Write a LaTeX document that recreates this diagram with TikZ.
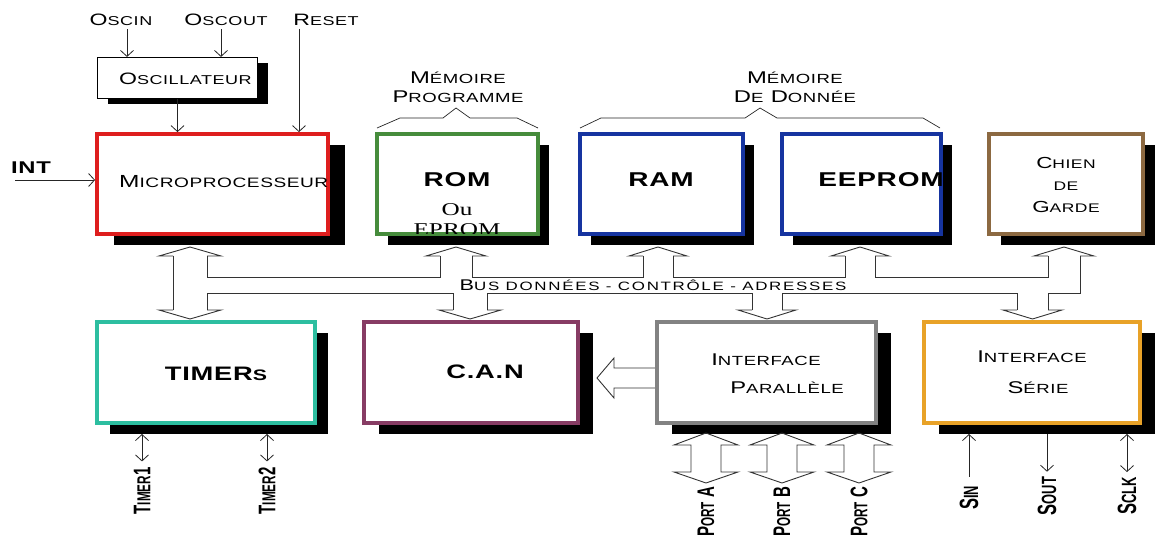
\documentclass[tikz,border=0pt]{standalone}
\usepackage{fontspec}
\usepackage{graphicx}
\setmainfont{Liberation Sans}[FakeStretch=1.4,LetterSpace=4]
\newfontfamily\droitsf{Liberation Sans}
\newfontfamily\romainsf{Liberation Serif}[FakeStretch=1.4]
\newfontfamily\bussf{Liberation Sans}[FakeStretch=1.4,LetterSpace=14]
\usetikzlibrary{arrows.meta,shadows}
\definecolor{rougemp}{RGB}{222,30,30}
\definecolor{vertrom}{RGB}{70,140,60}
\definecolor{bleumem}{RGB}{22,52,160}
\definecolor{brunwd}{RGB}{140,105,65}
\definecolor{turqtim}{RGB}{45,190,160}
\definecolor{violcan}{RGB}{135,60,100}
\definecolor{grispar}{RGB}{130,130,130}
\definecolor{orser}{RGB}{232,162,40}
\newcommand\pc[1]{\scalebox{0.78}{#1}}
\begin{document}
\begin{tikzpicture}[x=1pt,y=-1pt,
  >={Straight Barb[length=6pt,width=13pt]},
  fil/.style={line width=0.8pt,color=black!85},
  bus/.style={line width=0.9pt,color=black!80},
  bloc/.style={draw=#1,line width=3.8pt,fill=white,inner sep=0pt,minimum height=100pt},
  ombre/.style={drop shadow={shadow xshift=#1,shadow yshift=-11pt,fill=black,opacity=1}},
  lab/.style={inner sep=0pt,font=\fontsize{16.5}{19}\selectfont},
  gras/.style={inner sep=0pt,font=\bfseries\fontsize{20}{22}\selectfont},
  rot/.style={inner sep=1pt,rotate=90,yscale=1.6,font=\droitsf\bfseries\fontsize{15}{17}\selectfont}]
  \useasboundingbox (0,0) rectangle (1156,537);
  \node [draw,fill=white,line width=1.1pt,minimum width=160pt,minimum height=41pt,inner sep=0pt,
    drop shadow={shadow xshift=10.5pt,shadow yshift=-5.5pt,fill=black,opacity=1}] (osc) at (177.5,78) {};
  \node [bloc=rougemp,ombre=17pt,minimum width=231pt] (micro) at (212.5,184) {};
  \node [bloc=vertrom,ombre=11pt,minimum width=161pt] (rom) at (457.5,184) {};
  \node [bloc=bleumem,ombre=11pt,minimum width=163pt] (ram) at (661.5,184) {};
  \node [bloc=bleumem,ombre=11pt,minimum width=159pt] (eeprom) at (861.5,184) {};
  \node [bloc=brunwd,ombre=12pt,minimum width=154pt] (chien) at (1066,184) {};
  \node [bloc=turqtim,ombre=13pt,minimum width=218pt,minimum height=101pt] (timers) at (206,372.5) {};
  \node [bloc=violcan,ombre=15pt,minimum width=214pt,minimum height=101pt] (can) at (471,372.5) {};
  \node [bloc=grispar,line width=4.5pt,ombre=15pt,minimum width=219pt,minimum height=101pt] (par) at (766.5,372.5) {};
  \node [bloc=orser,ombre=15pt,minimum width=216pt,minimum height=101pt] (serie) at (1032,372.5) {};

  \node [lab] (oscin) at (121,20) {O\pc{SCIN}};
  \node [lab] (oscout) at (226,20) {O\pc{SCOUT}};
  \node [lab] (reset) at (326,20) {R\pc{ESET}};
  \node [lab,font=\bfseries\fontsize{17}{19}\selectfont] (int) at (31,168) {INT};
  \node [lab,anchor=west] (osctxt) at (119,79) {O\pc{SCILLATEUR}};
  \node [lab,anchor=west,font=\fontsize{17.5}{20}\selectfont] (mptxt) at (119,182) {M\pc{ICROPROCESSEUR}};
  \node [gras] (romtxt) at (457,180) {ROM};
  \node [inner sep=0pt,font=\romainsf\fontsize{18}{20}\selectfont] (outxt) at (457,210) {Ou};
  \begin{scope}
    \clip (377,134) rectangle (538,234);
    \node [inner sep=0pt,font=\romainsf\fontsize{18}{20}\selectfont] (epromtxt) at (457,229.5) {EPROM};
  \end{scope}
  \node [gras] (ramtxt) at (661,180) {RAM};
  \node [gras] (eeptxt) at (881,180) {EEPROM};
  \node [lab,align=center,font=\fontsize{16}{22}\selectfont] (cdgtxt) at (1066,185) {C\pc{HIEN}\\\pc{DE}\\G\pc{ARDE}};
  \node [lab,align=center,font=\fontsize{17}{19}\selectfont] (mprog) at (458,87) {M\pc{ÉMOIRE}\\P\pc{ROGRAMME}};
  \node [lab,align=center,font=\fontsize{17}{19}\selectfont] (mdon) at (795,87) {M\pc{ÉMOIRE}\\D\pc{E} D\pc{ONNÉE}};
  \node [gras,font=\bfseries\fontsize{19.5}{22}\selectfont] (timtxt) at (216,374) {TIMER\pc{S}};
  \node [gras,font=\bfseries\fontsize{19.5}{22}\selectfont] (cantxt) at (485,372) {C.A.N};
  \node [lab,font=\fontsize{17}{19}\selectfont] (ip1) at (766,360) {I\pc{NTERFACE}};
  \node [lab,font=\fontsize{17}{19}\selectfont] (ip2) at (787,388) {P\pc{ARALLÈLE}};
  \node [lab,font=\fontsize{17}{19}\selectfont] (is1) at (1032,357) {I\pc{NTERFACE}};
  \node [lab,font=\fontsize{17}{19}\selectfont] (is2) at (1038,388) {S\pc{ÉRIE}};
  \node [inner sep=0pt,font=\bussf\fontsize{15.5}{17}\selectfont] (bustxt) at (653,285) {B\pc{US DONNÉES - CONTRÔLE - ADRESSES}};

  \draw [fil,line width=0.7pt] (377,128) -- (400,118) -- (443,118) -- (456,108) -- (470,118) -- (517,118) -- (538,128);
  \draw [fil,line width=0.7pt] (580,128) -- (601,118) -- (745,118) -- (760,108) -- (777,118) -- (923,118) -- (940,128);

  \coordinate (rst) at (299,29);
  \coordinate (intin) at (15,180);
  \coordinate (sbas) at (0,434);
  \draw [fil,->] ([xshift=6pt]oscin.south) ++(0,3) -- ([xshift=6pt]oscin.south |- osc.north);
  \draw [fil,->] ([xshift=-5pt]oscout.south) ++(0,3) -- ([xshift=-5pt]oscout.south |- osc.north);
  \draw [fil,->] (rst) -- (rst |- micro.north);
  \draw [fil,->] (osc.south) -- (osc.south |- micro.north);
  \draw [fil,->] (intin) -- (intin -| micro.west);

  \foreach \a/\b in {173/207, 440/472, 643/673, 845/875, 1048/1080}{
    \draw [bus] (\a,256) -- ({\a-14},256) -- ({(\a+\b)/2},247) -- ({\b+14},256) -- (\b,256);
  }
  \foreach \a/\b in {173/207, 453/487, 752/782, 1017/1048}{
    \draw [bus] (\a,310) -- ({\a-14},310) -- ({(\a+\b)/2},319) -- ({\b+14},310) -- (\b,310);
  }
  \foreach \a/\b in {207/440, 472/643, 673/845, 875/1048}{
    \draw [bus] (\a,256) -- (\a,277) -- (\b,277) -- (\b,256);
  }
  \foreach \a/\b in {207/453, 487/752, 782/1017}{
    \draw [bus] (\a,310) -- (\a,293) -- (\b,293) -- (\b,310);
  }
  \draw [bus] (173,256) -- (173,310);
  \draw [bus] (1080,256) -- (1080,293) -- (1048,293) -- (1048,310);
  \draw [bus] (par.west |- 0,368) -- (614,368) -- (614,358) -- (597,378) -- (614,398) -- (614,388) -- (par.west |- 0,388);

  \foreach \c/\lettre in {706/A, 782/B, 859/C}{
    \draw [bus] (\c,433) -- ({\c+32},445) -- ({\c+15},445) -- ({\c+15},472) -- ({\c+32},472) -- (\c,483)
      -- ({\c-32},472) -- ({\c-15},472) -- ({\c-15},445) -- ({\c-32},445) -- cycle;
    \node [rot] (port\lettre) at (\c,512) {P\pc{ORT} \lettre};
  }
  \node [rot] (tim1) at (142,491) {T\pc{IMER}1};
  \node [rot] (tim2) at (267,491) {T\pc{IMER}2};
  \node [rot,font=\droitsf\bfseries\fontsize{16.5}{18}\selectfont] (sin) at (969,498) {S\pc{IN}};
  \node [rot,font=\droitsf\bfseries\fontsize{16.5}{18}\selectfont] (sout) at (1047,496) {S\pc{OUT}};
  \node [rot,font=\droitsf\bfseries\fontsize{16.5}{18}\selectfont] (sclk) at (1127,496) {S\pc{CLK}};
  \draw [fil,<->,shorten >=5pt] (tim1 |- sbas) -- (tim1.east);
  \draw [fil,<->,shorten >=5pt] (tim2 |- sbas) -- (tim2.east);
  \draw [fil,->,shorten <=8pt] (sin.east) -- (sin |- sbas);
  \draw [fil,->,shorten >=4pt] (sout |- sbas) -- (sout.east);
  \draw [fil,<->,shorten >=4pt] (sclk |- sbas) -- (sclk.east);
\end{tikzpicture}
\end{document}
